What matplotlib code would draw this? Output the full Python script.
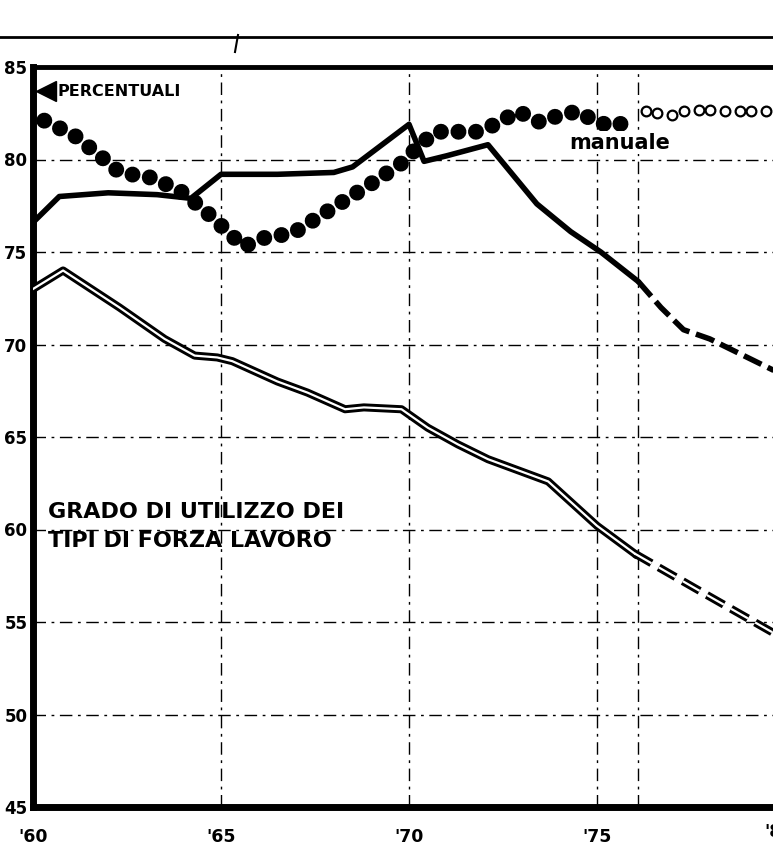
import matplotlib.pyplot as plt
from matplotlib.lines import Line2D

plt.rcParams['font.family'] = ['DejaVu Sans']
plt.rcParams['lines.scale_dashes'] = False

# manodopera manuale (punti pieni) e proiezione (cerchi vuoti)
anni_man = [1960.3, 1961.1, 1961.9, 1962.3, 1963.2, 1964.0, 1964.7, 1965.6, 1966.2,
            1966.9, 1967.6, 1968.3, 1969.0, 1969.8, 1970.3, 1970.7, 1971.8, 1972.3,
            1972.9, 1973.5, 1974.0, 1974.5, 1975.0, 1975.5, 1975.9]
val_man = [82.1, 81.3, 80.0, 79.3, 79.0, 78.2, 77.0, 75.3, 75.8,
           76.0, 76.9, 77.8, 78.7, 79.8, 80.8, 81.5, 81.5, 81.9,
           82.6, 82.0, 82.4, 82.6, 82.0, 81.8, 82.2]
anni_man_prev = [1976.3, 1976.6, 1977.0, 1977.3, 1977.7, 1978.0, 1978.4, 1978.8, 1979.1, 1979.5]
val_man_prev = [82.6, 82.5, 82.4, 82.6, 82.7, 82.7, 82.6, 82.6, 82.6, 82.6]

# linea piena
anni_a = [1960.0, 1960.7, 1962.0, 1963.3, 1964.2, 1965.0, 1966.5, 1968.0, 1968.5,
          1970.0, 1970.4, 1971.0, 1972.1, 1973.4, 1974.3, 1975.1, 1976.1]
val_a = [76.6, 78.0, 78.2, 78.1, 77.9, 79.2, 79.2, 79.3, 79.6,
         81.9, 79.9, 80.2, 80.8, 77.6, 76.1, 75.0, 73.4]
anni_a_prev = [1976.1, 1976.7, 1977.3, 1978.0, 1978.7, 1979.7]
val_a_prev = [73.4, 72.0, 70.8, 70.3, 69.6, 68.6]

# linea doppia
anni_b = [1960.0, 1960.8, 1962.3, 1963.5, 1964.3, 1964.9, 1965.3, 1966.5, 1967.3,
          1968.3, 1968.8, 1969.8, 1970.5, 1971.3, 1972.1, 1973.7, 1975.0, 1976.0]
val_b = [73.0, 74.0, 72.0, 70.3, 69.4, 69.3, 69.1, 68.0, 67.4,
         66.5, 66.6, 66.5, 65.5, 64.6, 63.8, 62.6, 60.2, 58.7]
anni_b_prev = [1976.0, 1977.8, 1979.7]
val_b_prev = [58.7, 56.6, 54.4]

griglia_y = [50, 55, 60, 65, 70, 75, 80]
griglia_x = [1965, 1970, 1975, 1976.1]
tick_y = [45, 50, 55, 60, 65, 70, 75, 80, 85]
tick_x = [1960, 1965, 1970, 1975]
etich_x = ["'60", "'65", "'70", "'75"]

fig = plt.figure(figsize=(7.73, 8.56), dpi=100)
ax = fig.add_axes([33 / 773, 49 / 856, 740 / 773, 740 / 856])
ax.set_xlim(1960, 1979.68)
ax.set_ylim(45, 85)

griglia = (0, (9, 4, 2, 4))
for g in griglia_y:
    ax.axhline(g, color='black', lw=1.0, ls=griglia, zorder=1)
for g in griglia_x:
    ax.axvline(g, color='black', lw=1.0, ls=griglia, zorder=1)

# linea piena
ax.plot(anni_a, val_a, color='black', lw=4, solid_capstyle='round',
        solid_joinstyle='round', zorder=3)
ax.plot(anni_a_prev, val_a_prev, color='black', lw=4, dashes=(14, 5), zorder=3)

# linea doppia
ax.plot(anni_b, val_b, color='black', lw=5.8, solid_joinstyle='round', zorder=3)
ax.plot(anni_b, val_b, color='white', lw=1.6, solid_joinstyle='round', zorder=4)
ax.plot(anni_b_prev, val_b_prev, color='black', lw=5.8, dashes=(14, 6), zorder=3)
ax.plot(anni_b_prev, val_b_prev, color='white', lw=1.6, dashes=(14, 6), zorder=4)

# manuale
ax.plot(anni_man, val_man, color='black', lw=11.5, dashes=(0.01, 12.6),
        dash_capstyle='round', zorder=5)
ax.plot(anni_man_prev, val_man_prev, ls='none', marker='o', ms=7,
        mfc='white', mec='black', mew=1.6, zorder=5)

ax.text(1975.6, 80.9, 'manuale', fontsize=15, fontweight='bold',
        ha='center', va='center', zorder=6,
        bbox=dict(facecolor='white', edgecolor='none', pad=1))
ax.plot([1960.35], [83.7], marker='<', ms=14, color='black', clip_on=False, zorder=6)
ax.text(1960.64, 83.7, 'PERCENTUALI', fontsize=11.5, fontweight='bold',
        ha='left', va='center', zorder=6)
ax.text(1960.4, 60.95, 'GRADO DI UTILIZZO DEI', fontsize=16, fontweight='bold',
        ha='left', va='center', zorder=6)
ax.text(1960.4, 59.38, 'TIPI DI FORZA LAVORO', fontsize=16, fontweight='bold',
        ha='left', va='center', zorder=6)

ax.set_yticks(tick_y)
ax.set_yticklabels([str(t) for t in tick_y], fontsize=12, fontweight='heavy')
ax.set_xticks(tick_x)
ax.set_xticklabels(etich_x, fontsize=12.5, fontweight='heavy')
ax.tick_params(axis='y', length=0, pad=4)
ax.tick_params(axis='x', length=0, pad=15)
# etichetta '80 tagliata dal bordo come nell'originale
ax.text(1979.85, 45 - 0.85, "'80", fontsize=12.5, fontweight='heavy', ha='center', va='top',
        clip_on=False)

ax.spines['right'].set_visible(False)
ax.spines['left'].set_linewidth(5)
ax.spines['bottom'].set_linewidth(5)
ax.spines['top'].set_linewidth(3.5)

# riga superiore della pagina
fig.add_artist(Line2D([0, 1], [1 - 37 / 856, 1 - 37 / 856], color='black', lw=2,
                      transform=fig.transFigure))
fig.add_artist(Line2D([238 / 773, 235 / 773], [1 - 35 / 856, 1 - 52 / 856], color='black',
                      lw=1.5, transform=fig.transFigure))

fig.savefig('out.png', dpi=100)
